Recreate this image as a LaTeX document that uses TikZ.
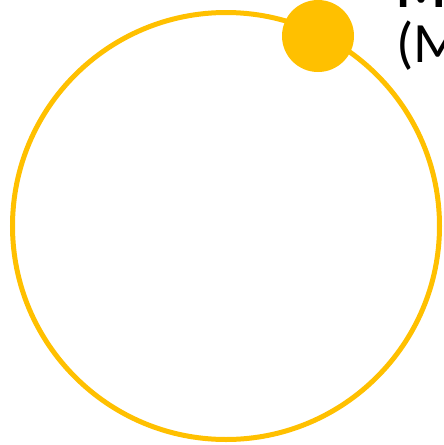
\documentclass[tikz,border=0pt]{standalone}
\usepackage{fontspec}
\setmainfont{Carlito}
\usetikzlibrary{positioning}
\definecolor{orbgold}{HTML}{FFC000}
\tikzset{
  orbit/.style={circle, draw=orbgold, line width=5pt, minimum size=427pt, inner sep=0pt},
  planet/.style={circle, fill=orbgold, minimum size=72pt, inner sep=0pt},
  tag/.style={anchor=base west, inner sep=0pt, font=\fontsize{57}{55}\selectfont},
}

\begin{document}
\begin{tikzpicture}[x=1pt, y=-1pt]
        \useasboundingbox (0,0) rectangle (444,445);
        \clip (0,0) rectangle (444,445);
        \node[orbit] (ring) at (226,226) {};
        \node[planet] (dot) at (318,36) {};
        \node[tag, font=\fontsize{57}{55}\selectfont\bfseries] (head) at (396,7) {Mo};
        \node[tag] (sub) at (396,62) {(M};
      \end{tikzpicture}
\end{document}
